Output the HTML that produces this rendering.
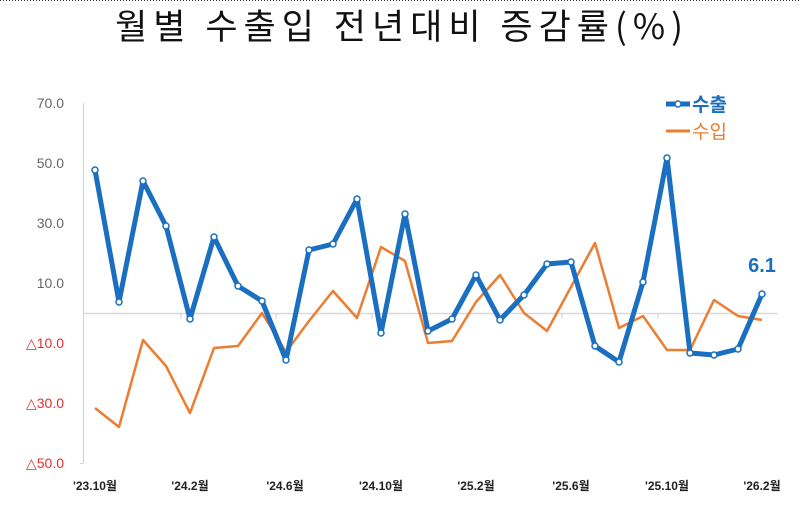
<!DOCTYPE html>
<html><head><meta charset="utf-8"><style>
body{margin:0;background:#fff;width:800px;height:518px;overflow:hidden}
svg{display:block}
</style></head><body>
<svg width="800" height="518" viewBox="0 0 800 518" xmlns="http://www.w3.org/2000/svg">
<line x1="0" y1="0.5" x2="800" y2="0.5" stroke="#333" stroke-dasharray="1,2"/>
<text x="402" y="39" text-anchor="middle" letter-spacing="6" font-family="'Noto Sans CJK KR','NanumGothic',sans-serif" font-size="35" fill="#111">월별 수출입 전년대비 증감률(%)</text>
<g font-family="'Liberation Sans',sans-serif" font-size="14" text-anchor="end">
<text x="64" y="108" fill="#666">70.0</text>
<text x="64" y="168" fill="#666">50.0</text>
<text x="64" y="228" fill="#666">30.0</text>
<text x="64" y="288" fill="#666">10.0</text>
<text x="64" y="348" fill="#e03030">△10.0</text>
<text x="64" y="408" fill="#e03030">△30.0</text>
<text x="64" y="468" fill="#e03030">△50.0</text>
</g>
<line x1="83.5" y1="103" x2="83.5" y2="463" stroke="#d0d0d0"/>
<line x1="80" y1="463.5" x2="83" y2="463.5" stroke="#d0d0d0"/>
<line x1="83" y1="313.5" x2="778" y2="313.5" stroke="#d9d9d9" stroke-width="1.5"/>
<g stroke="#d0d0d0"><line x1="181" y1="313" x2="181" y2="319"/><line x1="276" y1="313" x2="276" y2="319"/><line x1="372" y1="313" x2="372" y2="319"/><line x1="467" y1="313" x2="467" y2="319"/><line x1="562" y1="313" x2="562" y2="319"/><line x1="658" y1="313" x2="658" y2="319"/></g>
<g font-family="'Liberation Sans','Noto Sans CJK KR',sans-serif" font-size="12" font-weight="bold" fill="#222" text-anchor="middle">
<text x="95" y="490">'23.10월</text><text x="190" y="490">'24.2월</text><text x="285" y="490">'24.6월</text>
<text x="381" y="490">'24.10월</text><text x="476" y="490">'25.2월</text><text x="571" y="490">'25.6월</text>
<text x="667" y="490">'25.10월</text><text x="762" y="490">'26.2월</text>
</g>
<polyline fill="none" stroke="#ed7d31" stroke-width="2.5" stroke-linejoin="round" points="95,408 119,427 143,340 166,366 190,413 214,348 238,346 262,313 286,352 309,321 333,291 357,318 381,247 405,261 428,343 452,341 476,302 500,275 524,313 547,331 571,287 595,243 619,328 643,316 667,350 690,350 714,300 738,316 762,320"/>
<polyline fill="none" stroke="#1a6fc0" stroke-width="5" stroke-linejoin="round" points="95,170 119,302 143,181 166,226 190,319 214,237 238,286 262,301 286,360 309,250 333,244 357,199 381,333 405,214 428,331 452,319 476,275 500,320 524,295 547,264 571,262 595,346 619,362 643,282 667,158 690,353 714,355 738,349 762,294"/>
<g fill="#fff" stroke="#1a6fc0" stroke-width="1.5">
<circle cx="95" cy="170" r="3"/><circle cx="119" cy="302" r="3"/><circle cx="143" cy="181" r="3"/><circle cx="166" cy="226" r="3"/><circle cx="190" cy="319" r="3"/><circle cx="214" cy="237" r="3"/><circle cx="238" cy="286" r="3"/><circle cx="262" cy="301" r="3"/><circle cx="286" cy="360" r="3"/><circle cx="309" cy="250" r="3"/><circle cx="333" cy="244" r="3"/><circle cx="357" cy="199" r="3"/><circle cx="381" cy="333" r="3"/><circle cx="405" cy="214" r="3"/><circle cx="428" cy="331" r="3"/><circle cx="452" cy="319" r="3"/><circle cx="476" cy="275" r="3"/><circle cx="500" cy="320" r="3"/><circle cx="524" cy="295" r="3"/><circle cx="547" cy="264" r="3"/><circle cx="571" cy="262" r="3"/><circle cx="595" cy="346" r="3"/><circle cx="619" cy="362" r="3"/><circle cx="643" cy="282" r="3"/><circle cx="667" cy="158" r="3"/><circle cx="690" cy="353" r="3"/><circle cx="714" cy="355" r="3"/><circle cx="738" cy="349" r="3"/><circle cx="762" cy="294" r="3"/>
</g>
<text x="762" y="272" text-anchor="middle" font-family="'Liberation Sans',sans-serif" font-size="20" font-weight="bold" fill="#1a6fc0">6.1</text>
<line x1="666" y1="104" x2="690" y2="104" stroke="#1a6fc0" stroke-width="5"/>
<circle cx="678" cy="104" r="3" fill="#fff" stroke="#1a6fc0" stroke-width="1.5"/>
<text x="692" y="111" font-family="'Noto Sans CJK KR',sans-serif" font-size="19" font-weight="bold" fill="#1a6fc0">수출</text>
<line x1="666" y1="131" x2="690" y2="131" stroke="#ed7d31" stroke-width="3"/>
<text x="692" y="138" font-family="'Noto Sans CJK KR',sans-serif" font-size="19" fill="#ed7d31">수입</text>
</svg>
</body></html>
